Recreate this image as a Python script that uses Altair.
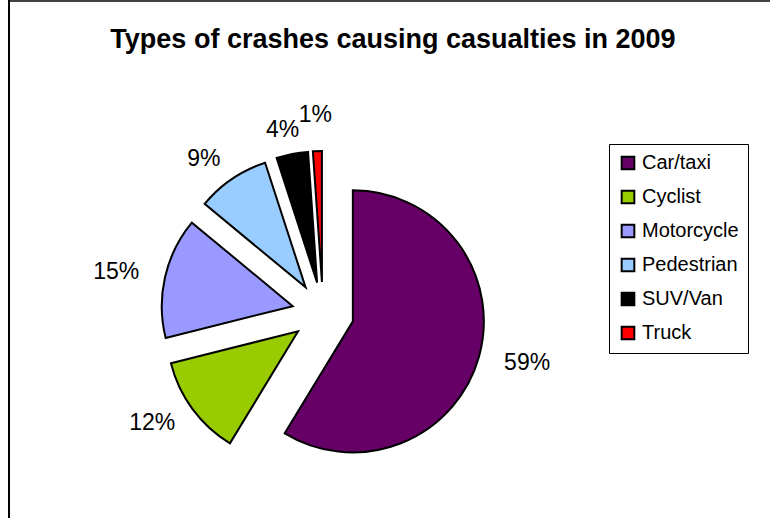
import altair as alt
import pandas as pd

# ---- data ----
types = ["Car/taxi", "Cyclist", "Motorcycle", "Pedestrian", "SUV/Van", "Truck"]
shares = [58.7, 12.4, 14.9, 9.0, 3.9, 1.1]
colors = ["#660066", "#99CC00", "#9999FF", "#99CCFF", "#000000", "#FF0000"]
title_text = "Types of crashes causing casualties in 2009"

df = pd.DataFrame({"type": types, "share": shares, "idx": list(range(len(types)))})

# ---- layout constants (pixels) ----
W, H = 770, 518
CX, CY = 323, 313      # pie centre
EXPLODE = 31           # explode distance of every slice
R = 131                # slice radius
LABEL_RX = 212         # horizontal label distance
LABEL_RY = 186         # vertical label distance
STAGGER = 12           # extra distance when the previous slice is tiny (avoid overlap)
FONT = "Liberation Sans"

base = (
    alt.Chart(df)
    .transform_joinaggregate(total="sum(share)")
    .transform_window(cum="sum(share)", prev="lag(share)", sort=[alt.SortField("idx")], frame=[None, 0])
    .transform_calculate(a0="(datum.cum - datum.share) / datum.total * 2 * PI")
    .transform_calculate(a1="datum.cum / datum.total * 2 * PI")
    .transform_calculate(mid="(datum.a0 + datum.a1) / 2")
    .transform_calculate(px=f"{CX} + {EXPLODE} * sin(datum.mid)")
    .transform_calculate(py=f"{CY} - {EXPLODE} * cos(datum.mid)")
    .transform_calculate(
        extra=f"(datum.prev != null && datum.prev / datum.total < 0.05) ? {STAGGER} : 0"
    )
    .transform_calculate(lx=f"{CX} + ({LABEL_RX} + datum.extra) * sin(datum.mid)")
    .transform_calculate(ly=f"{CY} - ({LABEL_RY} + datum.extra) * cos(datum.mid)")
    .transform_calculate(pct="format(datum.share / datum.total, '.0%')")
)

arcs = base.mark_arc(outerRadius=R, stroke="black", strokeWidth=2, strokeJoin="miter").encode(
    theta=alt.Theta("a0:Q", scale=None),
    theta2="a1:Q",
    x=alt.X("px:Q", scale=None),
    y=alt.Y("py:Q", scale=None),
    color=alt.Color(
        "type:N",
        scale=alt.Scale(domain=types, range=colors),
        sort=types,
        legend=alt.Legend(
            orient="none",
            legendX=609,
            legendY=144,
            title=None,
            strokeColor="black",
            fillColor="white",
            padding=9,
            symbolType="square",
            symbolSize=160,
            symbolStrokeColor="black",
            symbolStrokeWidth=2,
            labelFont=FONT,
            labelFontSize=20,
            labelColor="black",
            labelOffset=4,
            rowPadding=12,
        ),
    ),
)

labels = base.mark_text(font=FONT, fontSize=23, color="black", align="center", baseline="middle").encode(
    x=alt.X("lx:Q", scale=None),
    y=alt.Y("ly:Q", scale=None),
    text="pct:N",
)

one = pd.DataFrame({"t": [title_text]})

title = alt.Chart(one).mark_text(
    font=FONT, fontSize=27, fontWeight="bold", color="black", align="center", baseline="alphabetic"
).encode(x=alt.value(393), y=alt.value(48), text="t:N")

top_border = alt.Chart(one).mark_rule(color="#404040", strokeWidth=2).encode(
    x=alt.value(8), x2=alt.value(W), y=alt.value(1)
)
left_border = alt.Chart(one).mark_rule(color="black", strokeWidth=2).encode(
    x=alt.value(9), y=alt.value(0), y2=alt.value(H)
)

chart = (
    alt.layer(top_border, left_border, arcs, labels, title)
    .properties(width=W, height=H, autosize="none", padding=0, background="white")
    .configure_view(stroke=None)
)

chart.save("out.html", embed_options={"renderer": "svg", "actions": False})
